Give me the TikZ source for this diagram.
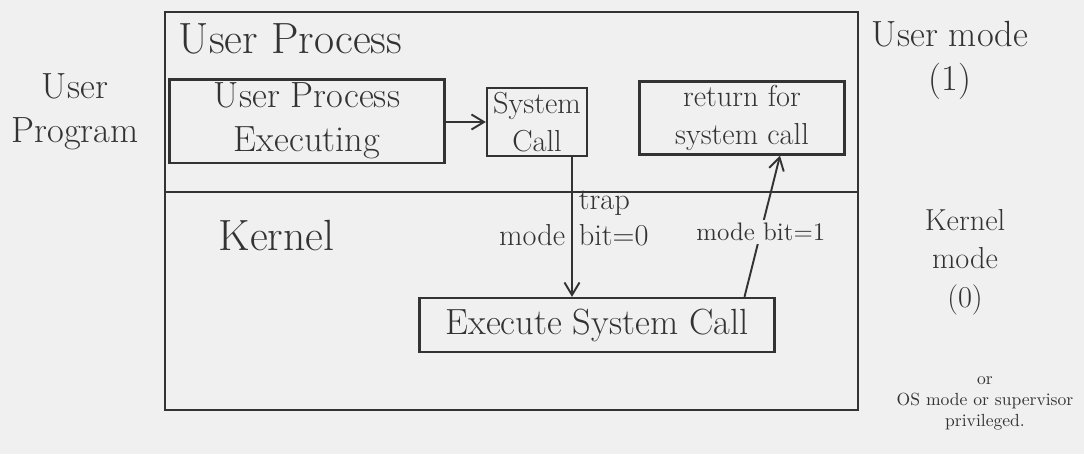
\documentclass[tikz,border=0pt]{standalone}
\usepackage{amsmath}
\usepackage{xcolor}
\usepackage{tikz}
\usetikzlibrary{arrows.meta, positioning, calc}
\definecolor{paper}{gray}{0.94}
\definecolor{ink}{gray}{0.2}
\tikzstyle{frame} = [rectangle, draw=ink, line width=1.3pt, minimum width=13.86cm, minimum height=7.96cm]
\tikzstyle{block} = [rectangle, draw=ink, line width=1.3pt, text=ink, font=\huge, inner sep=2pt, text centered, align=center]
\tikzstyle{arrow} = [line width=1.1pt, draw=ink, ->, >={Straight Barb[length=2.5mm, width=3mm]}]
\tikzstyle{note} = [text=ink, align=center]

\begin{document}
\begin{tikzpicture}
        \fill [paper] (0,0) rectangle (21.68,9.08);
        \useasboundingbox (0,0) rectangle (21.68,9.08);

        % outer process box split into user / kernel part
        \node (proc) [frame] at (10.23,4.86) {};
        \coordinate (div_l) at (3.3,5.24);
        \coordinate (div_r) at (17.16,5.24);
        \draw [draw=ink, line width=1.3pt] (div_l) -- (div_r);

        \node (user_lbl) [note, font=\Huge, anchor=west] at (3.45,8.3) {User Process};
        \node (kern_lbl) [note, font=\Huge, anchor=west] at (4.25,4.38) {Kernel};

        \node (upe) [block, minimum width=5.5cm, minimum height=1.64cm] at (6.14,6.66) {User Process\\Executing};
        \node (sys) [block, font=\LARGE, minimum width=2cm, minimum height=1.3cm] at (10.74,6.64) {System\\Call};
        \node (ret) [block, font=\LARGE, minimum width=4.1cm, minimum height=1.34cm] at (14.84,6.72) {return for\\system call};
        \node (exec) [block, minimum width=7.1cm, minimum height=1.08cm] at (11.94,2.58) {Execute System Call};

        \draw [arrow] (upe.east |- sys.west) -- (sys.west);
        \draw [arrow] ([xshift=7mm]sys.south) -- ([xshift=7mm]sys.south |- exec.north)
            node[pos=0.33, note, font=\LARGE, anchor=west] {trap}
            node[pos=0.56, note, font=\LARGE, anchor=east] {mode}
            node[pos=0.56, note, font=\LARGE, anchor=west] {bit=0};
        \draw [arrow] ([xshift=2.95cm]exec.north) -- ([xshift=7.6mm]ret.south)
            node[pos=0.46, note, font=\Large, fill=paper, inner sep=2pt] {mode bit=1};

        % side notes
        \node (prog) [note, font=\huge] at (1.5,6.84) {User\\Program};
        \node (umode) [note, font=\huge] at (19.0,7.88) {User mode\\(1)};
        \node (kmode) [note, font=\LARGE] at (19.3,3.84) {Kernel\\mode\\(0)};
        \node (osmode) [note, font=\normalsize] at (19.7,1.02) {or\\OS mode or supervisor\\privileged.};
\end{tikzpicture}
\end{document}
